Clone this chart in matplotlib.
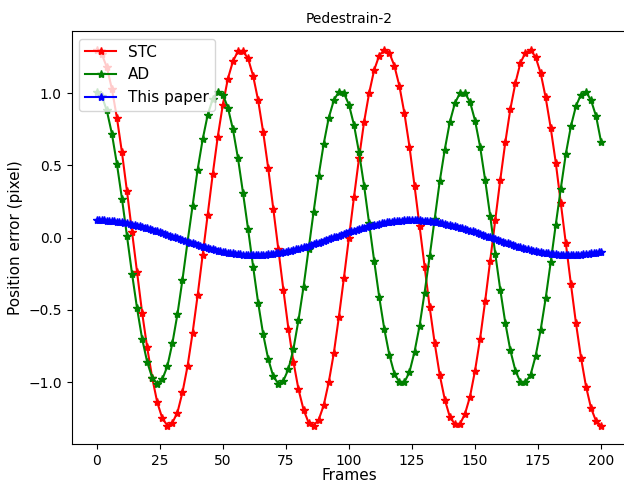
import matplotlib
matplotlib.use("Agg")
import matplotlib.pyplot as plt
import numpy as np

# Frames for STC and AD (every 2 frames) and for "This paper" (every frame)
frames_coarse = list(range(0, 201, 2))
frames_fine = list(range(0, 201))

stc = [1.30, 1.27, 1.18, 1.03, 0.83, 0.59, 0.32, 0.04, -0.24, -0.52,
       -0.76, -0.97, -1.14, -1.25, -1.30, -1.28, -1.21, -1.07, -0.89, -0.66,
       -0.40, -0.12, 0.16, 0.44, 0.70, 0.92, 1.10, 1.22, 1.29, 1.29,
       1.24, 1.12, 0.95, 0.73, 0.48, 0.20, -0.08, -0.36, -0.63, -0.86,
       -1.05, -1.19, -1.28, -1.30, -1.26, -1.16, -1.00, -0.80, -0.55, -0.28,
       0.00, 0.28, 0.55, 0.80, 1.00, 1.16, 1.26, 1.30, 1.28, 1.19,
       1.05, 0.86, 0.63, 0.36, 0.08, -0.20, -0.48, -0.73, -0.95, -1.12,
       -1.24, -1.29, -1.29, -1.22, -1.10, -0.92, -0.70, -0.44, -0.16, 0.12,
       0.40, 0.66, 0.89, 1.07, 1.21, 1.28, 1.30, 1.25, 1.14, 0.97,
       0.76, 0.52, 0.24, -0.04, -0.32, -0.59, -0.83, -1.03, -1.18, -1.27,
       -1.30]

ad = [1.01, 0.98, 0.88, 0.72, 0.51, 0.27, 0.01, -0.25, -0.49, -0.70,
      -0.86, -0.97, -1.01, -0.98, -0.89, -0.73, -0.53, -0.29, -0.03, 0.22,
      0.47, 0.68, 0.85, 0.96, 1.01, 0.99, 0.90, 0.75, 0.55, 0.31,
      0.06, -0.20, -0.45, -0.67, -0.84, -0.96, -1.01, -0.99, -0.91, -0.77,
      -0.57, -0.34, -0.08, 0.18, 0.43, 0.65, 0.83, 0.95, 1.01, 1.00,
      0.92, 0.78, 0.59, 0.36, 0.10, -0.16, -0.41, -0.63, -0.81, -0.94,
      -1.00, -1.00, -0.93, -0.79, -0.61, -0.38, -0.13, 0.13, 0.39, 0.61,
      0.80, 0.93, 1.00, 1.00, 0.94, 0.81, 0.63, 0.40, 0.15, -0.11,
      -0.36, -0.59, -0.78, -0.92, -1.00, -1.00, -0.95, -0.82, -0.64, -0.42,
      -0.17, 0.09, 0.34, 0.58, 0.77, 0.91, 0.99, 1.01, 0.95, 0.84,
      0.66]

this_paper = [0.120, 0.120, 0.119, 0.119, 0.118, 0.116, 0.115, 0.113, 0.110, 0.108,
              0.105, 0.102, 0.099, 0.095, 0.091, 0.087, 0.083, 0.079, 0.074, 0.069,
              0.064, 0.059, 0.054, 0.048, 0.043, 0.037, 0.031, 0.025, 0.020, 0.014,
              0.008, 0.002, -0.005, -0.011, -0.017, -0.022, -0.028, -0.034, -0.040, -0.046,
              -0.051, -0.056, -0.062, -0.067, -0.072, -0.076, -0.081, -0.085, -0.090, -0.093,
              -0.097, -0.101, -0.104, -0.107, -0.109, -0.112, -0.114, -0.115, -0.117, -0.118,
              -0.119, -0.120, -0.120, -0.120, -0.120, -0.119, -0.118, -0.117, -0.115, -0.114,
              -0.112, -0.109, -0.107, -0.104, -0.101, -0.097, -0.093, -0.090, -0.085, -0.081,
              -0.076, -0.072, -0.067, -0.062, -0.056, -0.051, -0.046, -0.040, -0.034, -0.028,
              -0.022, -0.017, -0.011, -0.005, 0.002, 0.008, 0.014, 0.020, 0.025, 0.031,
              0.037, 0.043, 0.048, 0.054, 0.059, 0.064, 0.069, 0.074, 0.079, 0.083,
              0.087, 0.091, 0.095, 0.099, 0.102, 0.105, 0.108, 0.110, 0.113, 0.115,
              0.116, 0.118, 0.119, 0.119, 0.120, 0.120, 0.120, 0.119, 0.119, 0.118,
              0.116, 0.115, 0.113, 0.110, 0.108, 0.105, 0.102, 0.099, 0.095, 0.091,
              0.087, 0.083, 0.079, 0.074, 0.069, 0.064, 0.059, 0.054, 0.048, 0.043,
              0.037, 0.031, 0.025, 0.020, 0.014, 0.008, 0.002, -0.005, -0.011, -0.017,
              -0.022, -0.028, -0.034, -0.040, -0.046, -0.051, -0.056, -0.062, -0.067, -0.072,
              -0.076, -0.081, -0.085, -0.090, -0.093, -0.097, -0.101, -0.104, -0.107, -0.109,
              -0.112, -0.114, -0.115, -0.117, -0.118, -0.119, -0.120, -0.120, -0.120, -0.120,
              -0.119, -0.118, -0.117, -0.115, -0.114, -0.112, -0.109, -0.107, -0.104, -0.101,
              -0.097]

series_labels = ["STC", "AD", "This paper"]
title = "Pedestrain-2"
xlabel = "Frames"
ylabel = "Position error (pixel)"

fig = plt.figure(figsize=(6.24, 4.83), dpi=100)
ax = fig.add_axes([0.1146, 0.0801, 0.8892, 0.8557])

ax.plot(frames_coarse, stc, color="red", marker="*", label=series_labels[0])
ax.plot(frames_coarse, ad, color="green", marker="*", label=series_labels[1])
ax.plot(frames_fine, this_paper, color="blue", marker="*", label=series_labels[2])

ax.set_title(title, fontsize=10)
ax.set_xlabel(xlabel, fontsize=11, labelpad=0)
ax.set_ylabel(ylabel, fontsize=11)
ax.set_xticks([0, 25, 50, 75, 100, 125, 150, 175, 200])
ax.set_yticks([-1.0, -0.5, 0.0, 0.5, 1.0])
ax.legend(loc="upper left", fontsize=11)

fig.savefig("out.png", dpi=100)
